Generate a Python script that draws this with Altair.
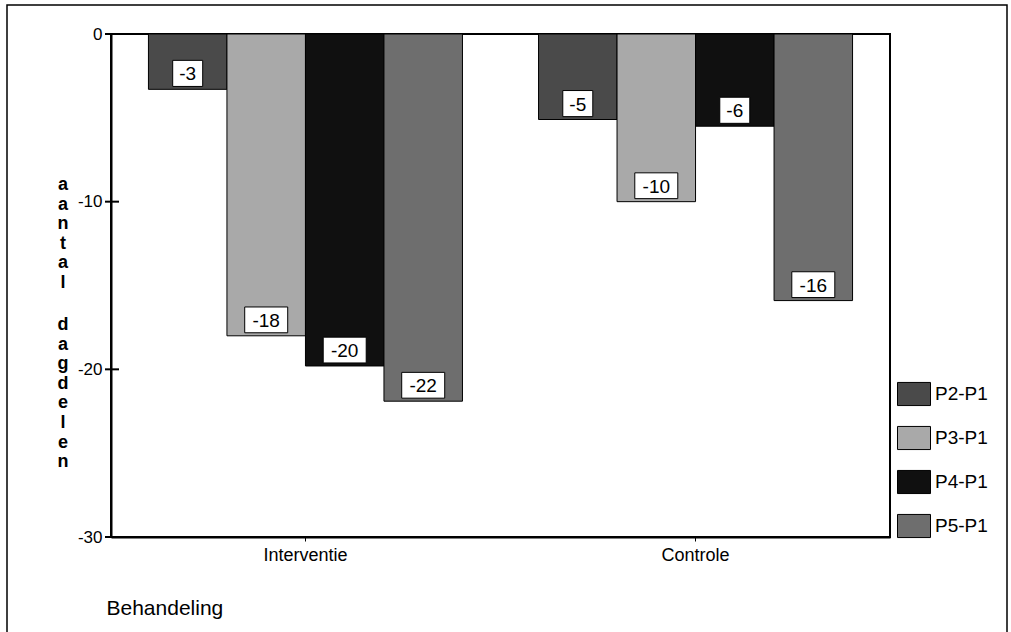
import altair as alt
import pandas as pd

groups = ["Interventie", "Controle"]
series = ["P2-P1", "P3-P1", "P4-P1", "P5-P1"]
values_interventie = [-3.3, -18.0, -19.8, -21.9]
values_controle = [-5.1, -10.0, -5.5, -15.9]
labels_interventie = ["-3", "-18", "-20", "-22"]
labels_controle = ["-5", "-10", "-6", "-16"]
y_ticks = [0, -10, -20, -30]
grays = ["#4a4a4a", "#a9a9a9", "#101010", "#6e6e6e"]
ytitle_word1 = ["a", "a", "n", "t", "a", "l"]
ytitle_word2 = ["d", "a", "g", "d", "e", "l", "e", "n"]

rows = []
for g, vals, labs in [("Interventie", values_interventie, labels_interventie),
                      ("Controle", values_controle, labels_controle)]:
    for s, v, l in zip(series, vals, labs):
        rows.append({"group": g, "series": s, "value": v, "label": l})
df = pd.DataFrame(rows)

FONT = "Liberation Sans, Arial, sans-serif"

W, H = 779, 503

xscale = alt.Scale(domain=groups, paddingInner=0.195, paddingOuter=0.096)
yscale = alt.Scale(domain=[-30, 0], nice=False, zero=False)
cscale = alt.Scale(domain=series, range=grays)

base = alt.Chart(df)

bars = base.mark_bar(stroke="black", strokeWidth=1).encode(
    x=alt.X("group:N", scale=xscale, sort=groups,
            axis=alt.Axis(title="Behandeling", labelAngle=0, labelFont=FONT, labelFontSize=18,
                          labelColor="black", labelPadding=5, tickSize=4, tickColor="black",
                          domainColor="black", domainWidth=2,
                          titleFont=FONT, titleFontSize=21, titleFontWeight="normal",
                          titleColor="black", titleAnchor="start", titleAlign="left",
                          titleX=-5, titleY=71, titleBaseline="middle")),
    xOffset=alt.XOffset("series:N", sort=series),
    y=alt.Y("value:Q", scale=yscale,
            axis=alt.Axis(values=y_ticks, ticks=False, grid=False, labelFont=FONT,
                          labelFontSize=17, labelColor="black", labelPadding=9,
                          labelExpr="datum.value + ''",
                          domainColor="black", domainWidth=2, title=None)),
    color=alt.Color("series:N", scale=cscale,
                    legend=alt.Legend(title=None, orient="none", legendX=786, legendY=343,
                                      symbolType="M-1,-0.7H1V0.7H-1Z", symbolSize=1089,
                                      symbolStrokeColor="black", symbolStrokeWidth=1,
                                      symbolOpacity=1, labelFont=FONT, labelFontSize=19,
                                      labelColor="black", labelOffset=4, rowPadding=13)),
)

box_base = base.transform_calculate(
    lpos="datum.value + 0.95", llen="length(datum.label)"
)

box_long = box_base.transform_filter("datum.llen >= 3").mark_point(
    shape="M-1,-0.6H1V0.6H-1Z", size=1849, filled=True, fill="white",
    stroke="black", strokeWidth=1, opacity=1
).encode(
    x=alt.X("group:N", scale=xscale, sort=groups),
    xOffset=alt.XOffset("series:N", sort=series),
    y=alt.Y("lpos:Q", scale=yscale),
)

box_short = box_base.transform_filter("datum.llen < 3").mark_point(
    shape="M-1,-0.87H1V0.87H-1Z", size=900, filled=True, fill="white",
    stroke="black", strokeWidth=1, opacity=1
).encode(
    x=alt.X("group:N", scale=xscale, sort=groups),
    xOffset=alt.XOffset("series:N", sort=series),
    y=alt.Y("lpos:Q", scale=yscale),
)

texts = box_base.mark_text(font=FONT, fontSize=19, color="black", align="center",
                           baseline="middle", dy=1).encode(
    x=alt.X("group:N", scale=xscale, sort=groups),
    xOffset=alt.XOffset("series:N", sort=series),
    y=alt.Y("lpos:Q", scale=yscale),
    text="label:N",
)

tick_df = pd.DataFrame({"t": y_ticks})
ticks = alt.Chart(tick_df).mark_rule(color="black", strokeWidth=2).encode(
    y=alt.Y("t:Q", scale=yscale),
    x=alt.value(-6),
    x2=alt.value(8),
)

one = alt.Data(values=[{"a": 1}])
ytitle1 = alt.Chart(one).mark_text(font=FONT, fontSize=18, fontWeight="bold", color="black",
                                   align="center", baseline="middle", lineHeight=19.6).encode(
    x=alt.value(-48), y=alt.value(151), text=alt.value(ytitle_word1)
)
ytitle2 = alt.Chart(one).mark_text(font=FONT, fontSize=18, fontWeight="bold", color="black",
                                   align="center", baseline="middle", lineHeight=19.6).encode(
    x=alt.value(-48), y=alt.value(291), text=alt.value(ytitle_word2)
)

frame = alt.Chart(one).mark_rect(
    fill=None, fillOpacity=0, stroke="black", strokeWidth=1.5
).encode(
    x=alt.value(-104), x2=alt.value(896), y=alt.value(-29), y2=alt.value(620)
)

chart = alt.layer(frame, bars, box_long, box_short, texts, ticks, ytitle1, ytitle2).properties(
    width=W, height=H,
    autosize=alt.AutoSizeParams(type="none"),
    padding={"left": 111, "top": 34, "right": 1011 - 111 - W, "bottom": 632 - 34 - H},
    background="white",
).configure_view(stroke="black", strokeWidth=2)

chart.save("out.html", embed_options={"renderer": "svg", "actions": False})
